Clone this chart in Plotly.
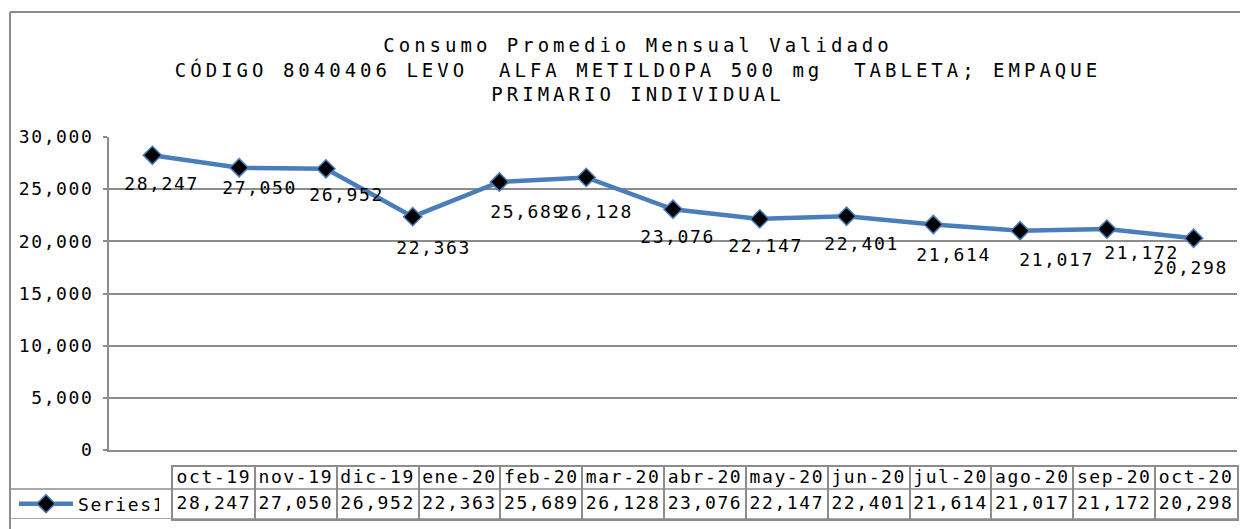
import plotly.graph_objects as go

# ---- data ----
months = ["oct-19", "nov-19", "dic-19", "ene-20", "feb-20", "mar-20", "abr-20",
          "may-20", "jun-20", "jul-20", "ago-20", "sep-20", "oct-20"]
series1 = [28247, 27050, 26952, 22363, 25689, 26128, 23076,
           22147, 22401, 21614, 21017, 21172, 20298]
series_name = "Series1"
y_ticks = [0, 5000, 10000, 15000, 20000, 25000, 30000]
title_lines = ["Consumo Promedio Mensual Validado",
               "CÓDIGO 8040406 LEVO  ALFA METILDOPA 500 mg  TABLETA; EMPAQUE",
               "PRIMARIO INDIVIDUAL"]

# label offsets in px (dx, dy downward) - style only
label_dx = [9, 20, 21, 21, 28, 9, 4, 6, 15, 20, 36, 35, -3]
label_dy = [28, 20, 26, 31, 30, 34, 27, 27, 27, 30, 29, 23, 29]

W, H = 1240, 529
FONT = "DejaVu Sans Mono"
GRID = "#8c8c8c"
BLUE = "#4A7EBB"

def px_x(p):
    return p / W

def px_y(p):
    return 1 - p / H

labels = [f"{v:,}" for v in series1]

fig = go.Figure()

fig.add_trace(go.Scatter(
    x=months, y=series1, name=series_name, mode="lines+markers",
    line=dict(color=BLUE, width=4.5),
    marker=dict(symbol="diamond", size=14, color="black",
                line=dict(color=BLUE, width=1.5)),
    hoverinfo="x+y",
))

# data table (header + values) on its own axes
fig.add_trace(go.Scatter(
    x=months, y=[41] * len(months), mode="text", text=months,
    textfont=dict(family=FONT, size=18, color="black"),
    xaxis="x2", yaxis="y2", showlegend=False, hoverinfo="skip",
))
fig.add_trace(go.Scatter(
    x=months, y=[15] * len(months), mode="text", text=labels,
    textfont=dict(family=FONT, size=18, color="black"),
    xaxis="x2", yaxis="y2", showlegend=False, hoverinfo="skip",
))

annotations = []
for i, (m, v) in enumerate(zip(months, series1)):
    annotations.append(dict(
        x=m, y=v, xref="x", yref="y", text=labels[i], showarrow=False,
        xshift=label_dx[i], yshift=-label_dy[i],
        font=dict(family=FONT, size=18, color="black"),
    ))

shapes = [
    # outer chart border
    dict(type="line", xref="paper", yref="paper", x0=px_x(10), x1=px_x(10),
         y0=px_y(12), y1=0, line=dict(color=GRID, width=2)),
    dict(type="line", xref="paper", yref="paper", x0=px_x(10), x1=1.0,
         y0=px_y(12), y1=px_y(12), line=dict(color=GRID, width=2)),
    # table horizontal lines extending to left border
    dict(type="line", xref="paper", yref="y2", x0=px_x(10), x1=px_x(1237),
         y0=30, y1=30, line=dict(color=GRID, width=1.5)),
    dict(type="line", xref="paper", yref="y2", x0=px_x(10), x1=px_x(1237),
         y0=0, y1=0, line=dict(color=GRID, width=1.5)),
]

fig.update_layout(
    width=W, height=H, autosize=False,
    margin=dict(l=0, r=0, t=0, b=0, pad=0, autoexpand=False),
    paper_bgcolor="white", plot_bgcolor="white",
    font=dict(family=FONT, size=18, color="black"),
    title=dict(text="<br>".join(title_lines), x=px_x(638), xanchor="center",
               xref="paper", yref="paper", y=px_y(52), yanchor="top",
               font=dict(family=FONT, size=19, color="black")),
    xaxis=dict(domain=[px_x(109), px_x(1237)], type="category",
               categoryorder="array", categoryarray=months,
               range=[-0.5, len(months) - 0.5], showticklabels=False,
               ticks="", showgrid=False, showline=True, linecolor=GRID,
               linewidth=1.5, zeroline=False, anchor="y", fixedrange=True,
               automargin=False),
    yaxis=dict(domain=[px_y(450), px_y(137)], range=[0, 30000],
               tickvals=y_ticks, tickformat=",d", showgrid=True,
               gridcolor=GRID, gridwidth=1.5, showline=True, linecolor=GRID,
               linewidth=2, ticks="outside", ticklen=4, tickcolor=GRID,
               tickwidth=1.5, zeroline=False, ticklabelstandoff=6,
               tickfont=dict(family=FONT, size=18, color="black"),
               anchor="x", fixedrange=True, automargin=False),
    xaxis2=dict(domain=[px_x(173), px_x(1237)], type="category",
                categoryorder="array", categoryarray=months,
                range=[-0.5, len(months) - 0.5], tickson="boundaries",
                showgrid=True, gridcolor=GRID, gridwidth=1.5,
                showticklabels=False, ticks="", showline=True, mirror=True,
                linecolor=GRID, linewidth=1.5, zeroline=False, anchor="y2",
                fixedrange=True, automargin=False),
    yaxis2=dict(domain=[px_y(519), px_y(467)], range=[0, 52],
                showgrid=False, showticklabels=False, ticks="",
                showline=True, mirror=True, linecolor=GRID, linewidth=1.5,
                zeroline=False, anchor="x2", fixedrange=True,
                automargin=False),
    showlegend=True,
    legend=dict(x=px_x(14), y=px_y(504), xanchor="left", yanchor="middle",
                bgcolor="rgba(0,0,0,0)", itemwidth=54,
                font=dict(family=FONT, size=18, color="black")),
    annotations=annotations,
    shapes=shapes,
)

post = """
document.documentElement.style.margin='0';
document.documentElement.style.overflow='hidden';
document.body.style.margin='0';
document.body.style.padding='0';
document.body.style.overflow='hidden';
var gd = document.getElementById('{plot_id}');
gd.style.position='fixed';
gd.style.left='0px';
gd.style.top='0px';
gd.querySelectorAll('.gtitle').forEach(function(e){ e.style.letterSpacing='4px'; });
gd.querySelectorAll('.annotation-text, .ytick text, .legendtext, .textpoint text').forEach(function(e){ e.style.letterSpacing='1.6px'; });
"""

fig.write_html("out.html", post_script=post, config={"displayModeBar": False})
